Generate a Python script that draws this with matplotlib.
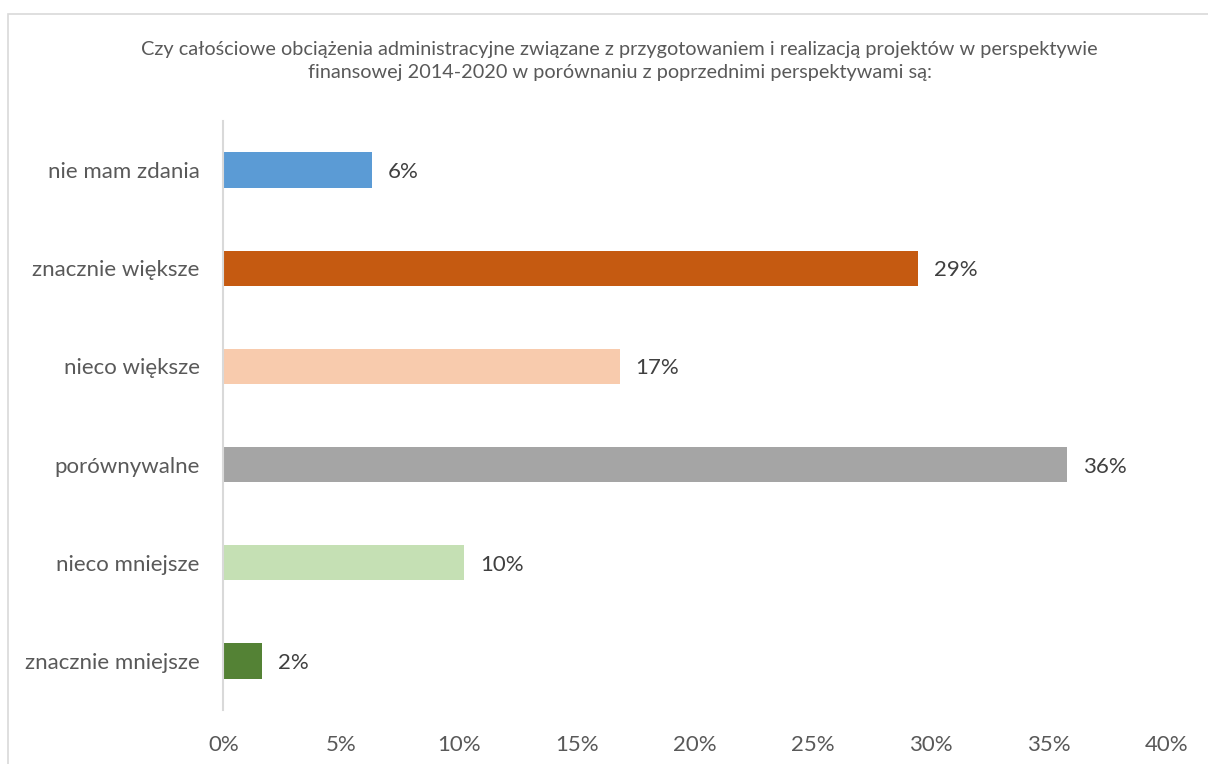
"""
Bar chart: administrative burden 2014-2020 vs previous perspectives
"""
import matplotlib.pyplot as plt
from matplotlib.patches import Rectangle
from matplotlib.ticker import FuncFormatter

# data
CATEGORIES = ['znacznie mniejsze', 'nieco mniejsze', 'porównywalne',
              'nieco większe', 'znacznie większe', 'nie mam zdania']
SHARES     = [0.0163, 0.102, 0.3577, 0.168, 0.2945, 0.0629]
X_TICKS    = [0, 0.05, 0.10, 0.15, 0.20, 0.25, 0.30, 0.35, 0.40]
TITLE_TEXT = ('Czy całościowe obciążenia administracyjne związane z przygotowaniem i realizacją projektów w perspektywie\n'
              'finansowej 2014-2020 w porównaniu z poprzednimi perspektywami są:')

# figure variables
COLOR_LIST = ['#548235', '#C5E0B4', '#A5A5A5', '#F8CBAD', '#C55A11', '#5B9BD5']
TEXT_COLOR = '#595959'
VALUE_COLOR = '#404040'
FONT_NAME  = 'Lato'
LABEL_SIZE = 16
PLOT_DPI   = 100


def draw_figure(image_path):
    plt.rcParams['font.family'] = [FONT_NAME, 'DejaVu Sans']
    fig = plt.figure(figsize=(12.08, 7.64), dpi=PLOT_DPI, facecolor='w')
    axes = fig.add_axes([0.185, 0.0707, 0.781, 0.771])

    # chart border (runs off the right and bottom edges)
    fig.patches.append(Rectangle((8, -100), 1300, 850, transform=None, fill=False,
                                 edgecolor='#D9D9D9', linewidth=1.2))

    ypos = range(len(CATEGORIES))
    axes.barh(ypos, SHARES, height=0.36, color=COLOR_LIST, zorder=2)
    for y, v in zip(ypos, SHARES):
        axes.annotate('{0:.0f}%'.format(v * 100), (v, y), xytext=(11.5, -1.5),
                      textcoords='offset points', ha='left', va='center',
                      fontsize=LABEL_SIZE, color=VALUE_COLOR)

    axes.set_xlim(0, 0.40)
    axes.set_ylim(-0.5, len(CATEGORIES) - 0.5)
    axes.set_xticks(X_TICKS)
    axes.xaxis.set_major_formatter(FuncFormatter(lambda x, p: '{0:.0f}%'.format(x * 100)))
    axes.set_yticks(list(ypos))
    axes.set_yticklabels(CATEGORIES)
    axes.tick_params(axis='both', length=0, labelsize=LABEL_SIZE, labelcolor=TEXT_COLOR)
    axes.tick_params(axis='y', pad=17)
    axes.tick_params(axis='x', pad=18)
    for side in ['top', 'right', 'bottom']:
        axes.spines[side].set_visible(False)
    axes.spines['left'].set_color('#D9D9D9')
    axes.spines['left'].set_linewidth(1.5)

    fig.text(0.513, 0.920, TITLE_TEXT, ha='center', va='center', fontsize=14.3,
             color=TEXT_COLOR, linespacing=1.4)

    plt.savefig(image_path, dpi=PLOT_DPI)
    plt.close(fig)


if __name__ == '__main__':
    draw_figure('out.png')
